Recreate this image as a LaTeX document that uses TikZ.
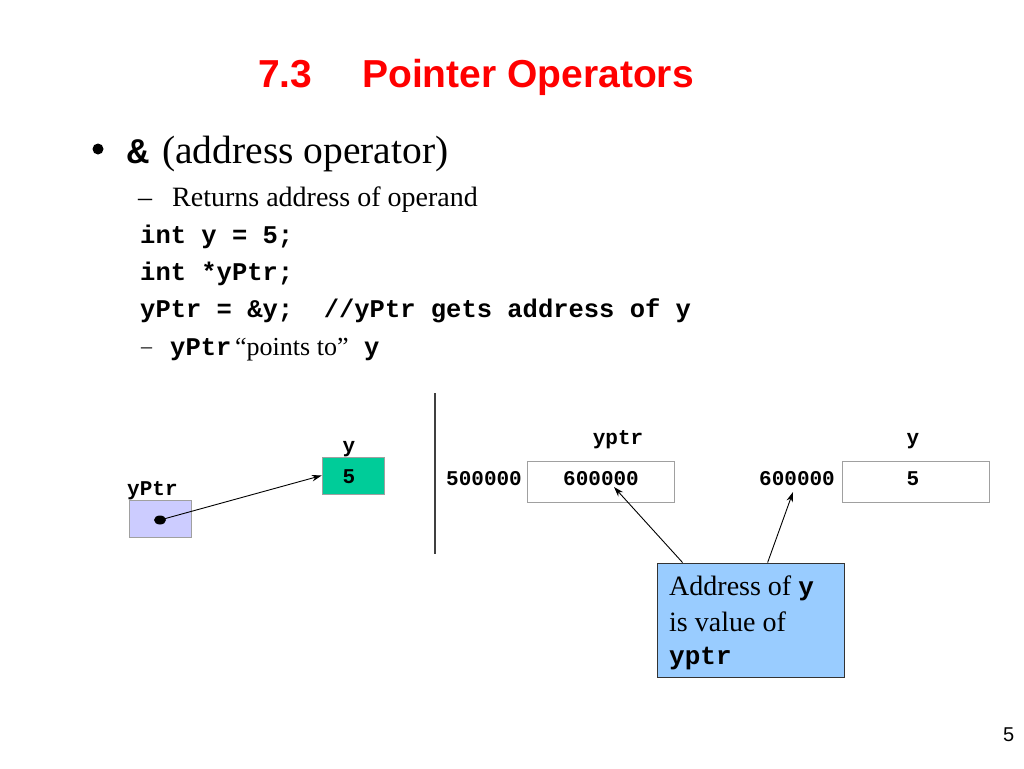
\documentclass[tikz,border=0pt]{standalone}
\usepackage{fontspec}
\setmainfont{Liberation Serif}
\setmonofont{Liberation Mono}
\newfontfamily\arialfont{Liberation Sans}
\usetikzlibrary{arrows.meta,shapes.geometric}
\definecolor{titlered}{RGB}{255,0,0}
\definecolor{boxgreen}{RGB}{0,204,153}
\definecolor{boxlav}{RGB}{204,204,255}
\definecolor{calloutblue}{RGB}{153,204,255}
\definecolor{boxgray}{RGB}{160,160,160}
\tikzset{
  txt/.style={inner sep=0pt, anchor=base west},
  titletxt/.style={txt, font=\arialfont\bfseries\fontsize{39}{39}\selectfont, text=titlered},
  bigtxt/.style={txt, font=\fontsize{39.5}{39.5}\selectfont},
  midtxt/.style={txt, font=\fontsize{28}{28}\selectfont},
  codetxt/.style={txt, font=\ttfamily\bfseries\fontsize{25.5}{25.5}\selectfont},
  dtxt/.style={inner sep=0pt, anchor=base, font=\ttfamily\bfseries\fontsize{21}{21}\selectfont},
  cell/.style={draw=boxgray, line width=0.8pt, minimum width=147pt, minimum height=41pt, inner sep=0pt, fill=white},
  ptr/.style={-{Stealth[length=10pt,width=6.5pt]}, line width=0.9pt, black},
}
\begin{document}
\begin{tikzpicture}[x=1pt,y=-1pt]
\path[use as bounding box, fill=white] (0,0) rectangle (1024,768);

% title
\node[titletxt] (t1) at (258,87) {7.3};
\node[titletxt] (t2) at (362,87) {Pointer Operators};

% bullet text
\node[circle, fill=black, inner sep=0pt, minimum size=11pt] (b1) at (98,149) {};
\node[txt, font=\ttfamily\bfseries\fontsize{36}{36}\selectfont] (amp) at (127,163) {\&};
\node[bigtxt] (l1) at (162,163) {(address operator)};
\node[midtxt] (d1) at (138,206) {–};
\node[midtxt] (l2) at (172,206) {Returns address of operand};
\node[codetxt] (c1) at (140,243) {int y = 5;};
\node[codetxt] (c2) at (140,280) {int *yPtr;};
\node[codetxt] (c3) at (140,317) {yPtr = \&y;\ \ //yPtr gets address of y};
\node[txt, font=\fontsize{22}{22}\selectfont] (d2) at (141,353) {–};
\node[codetxt] (c4) at (170,355) {yPtr};
\node[txt, font=\fontsize{26}{26}\selectfont] (l3) at (235,355) {“points to”};
\node[codetxt] (c5) at (364,355) {y};

% left diagram
\node[dtxt] (ylab) at (349,452) {y};
\node[draw=boxgray, line width=0.6pt, fill=boxgreen, minimum width=62pt, minimum height=37pt, inner sep=0pt] (ybox) at (353,475.5) {};
\node[dtxt] (yval) at (349,483) {5};
\node[dtxt, anchor=base west] (plab) at (127,495) {yPtr};
\node[draw=boxgray, line width=0.6pt, fill=boxlav, minimum width=62pt, minimum height=37pt, inner sep=0pt] (pbox) at (160,518.5) {};
\node[ellipse, fill=black, inner sep=0pt, minimum width=12pt, minimum height=9pt] (dot) at (160,520) {};
\draw[ptr] (dot.center) -- (ybox.west);

% separator
\coordinate (sepT) at (435,393);
\coordinate (sepB) at (435,554);
\draw[line width=1.2pt, black!75] (sepT) -- (sepB);

% right diagram
\node[dtxt] (yptrlab) at (618,444) {yptr};
\node[dtxt] (ylab2) at (913,444) {y};
\node[dtxt, anchor=base west] (addr1) at (446,485) {500000};
\node[cell] (cell1) at (600.5,481.5) {};
\node[dtxt] (val1) at (601,485) {600000};
\node[dtxt, anchor=base west] (addr2) at (759,485) {600000};
\node[cell] (cell2) at (916,481.5) {};
\node[dtxt] (val2) at (913,485) {5};

% callout
\node[draw=black!80, line width=0.8pt, fill=calloutblue, minimum width=187pt, minimum height=114pt, inner sep=0pt] (call) at (750.5,620) {};
\node[txt, font=\fontsize{28}{28}\selectfont] (cl1) at (669,595) {Address of \texttt{\bfseries\fontsize{26}{26}\selectfont y}};
\node[txt, font=\fontsize{28}{28}\selectfont] (cl2) at (669,631) {is value of};
\node[txt, font=\ttfamily\bfseries\fontsize{26}{26}\selectfont] (cl3) at (669,664) {yptr};

\coordinate (a1s) at ([xshift=26pt]call.north west);
\coordinate (a1e) at (614,487);
\coordinate (a2s) at ([xshift=111pt]call.north west);
\coordinate (a2e) at (793,492);
\draw[ptr] (a1s) -- (a1e);
\draw[ptr] (a2s) -- (a2e);

% page number
\node[txt, font=\arialfont\fontsize{20}{20}\selectfont] (pg) at (1003,741) {5};
\end{tikzpicture}
\end{document}
